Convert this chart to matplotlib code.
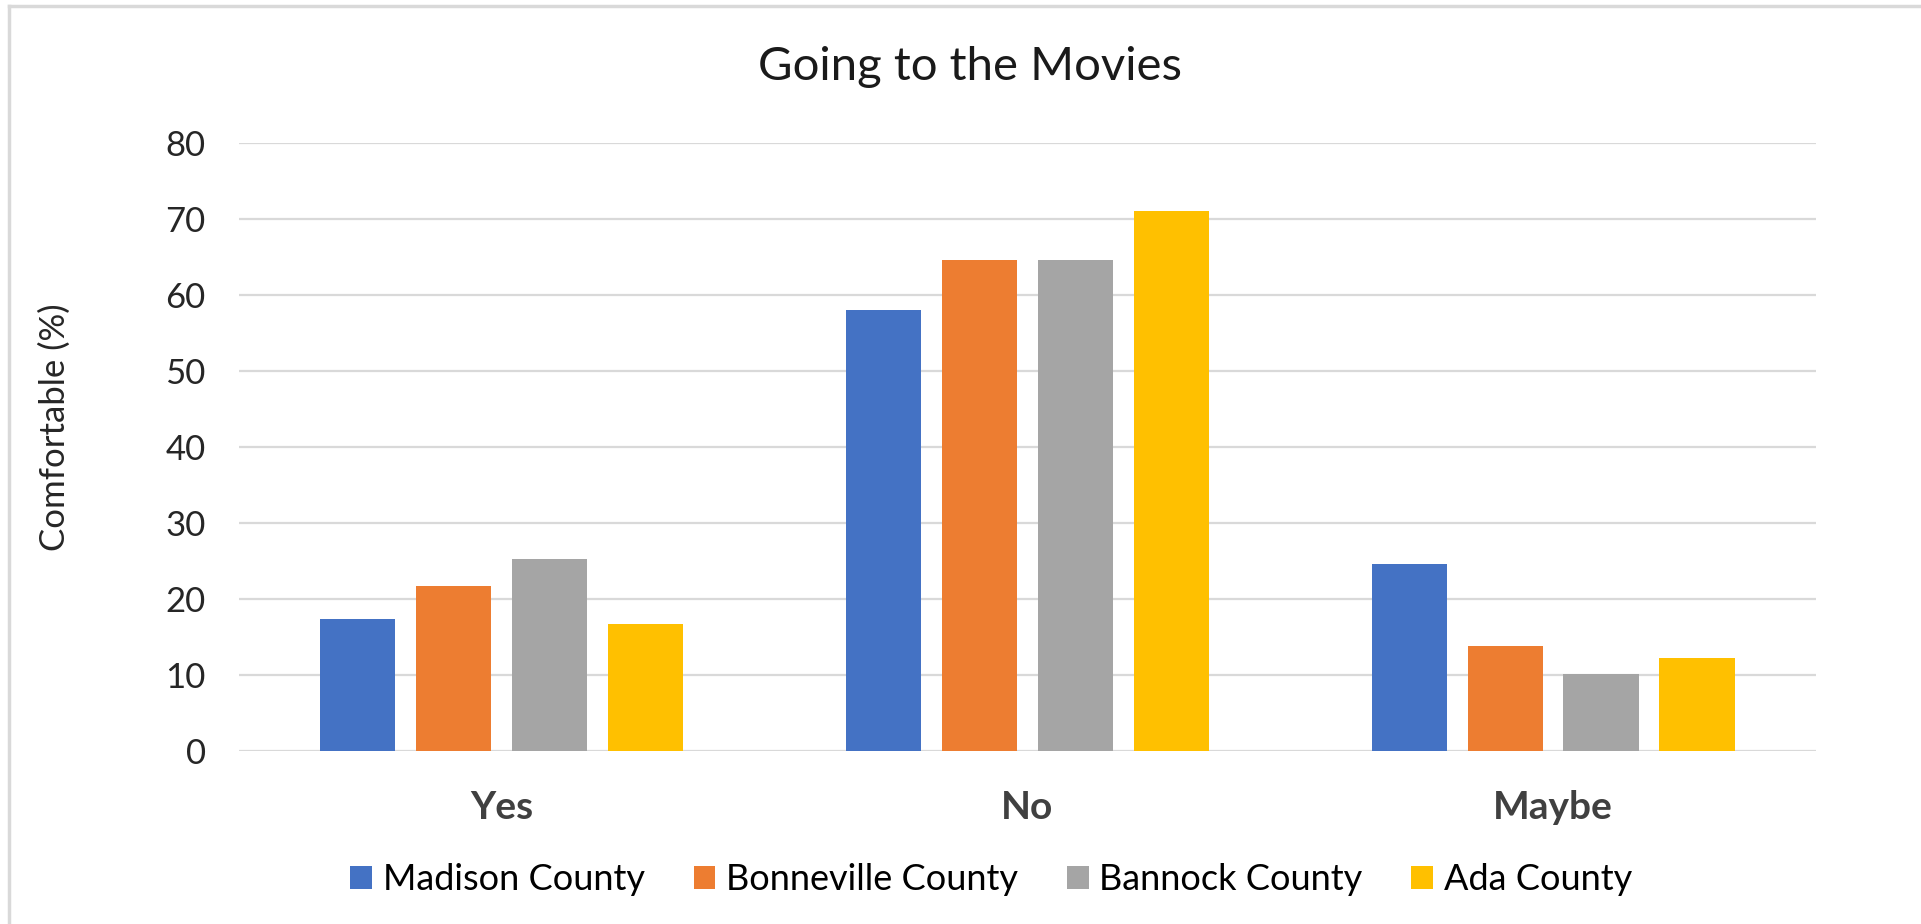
import matplotlib
matplotlib.use('Agg')
import matplotlib.pyplot as plt
from matplotlib.lines import Line2D
import numpy as np

categories = ['Yes', 'No', 'Maybe']
counties = ['Madison County', 'Bonneville County', 'Bannock County', 'Ada County']
madison = [17.4, 58.1, 24.6]
bonneville = [21.7, 64.6, 13.8]
bannock = [25.3, 64.6, 10.1]
ada = [16.7, 71.1, 12.3]
colors = ['#4472C4', '#ED7D31', '#A5A5A5', '#FFC000']

plt.rcParams['font.family'] = ['Lato', 'DejaVu Sans']

fig = plt.figure(figsize=(19.21, 9.24), dpi=100)
ax = fig.add_axes([0.1244, 0.1872, 0.8209, 0.6577])

x = np.arange(len(categories))
width = 0.143
step = 0.1825
for i, (vals, name) in enumerate(zip([madison, bonneville, bannock, ada], counties)):
    ax.bar(x + (i - 1.5) * step, vals, width, color=colors[i], label=name, zorder=3)

ax.set_xlim(-0.5, 2.5)
ax.set_ylim(0, 80)
ax.set_yticks(range(0, 81, 10))
ax.yaxis.grid(True, color='#D9D9D9', linewidth=1.6, zorder=0)
for s in ax.spines.values():
    s.set_visible(False)
ax.tick_params(axis='y', length=0, pad=24, labelsize=25, labelcolor='#262626')
ax.set_xticks(x)
ax.set_xticklabels(categories, fontsize=28, fontweight='bold', color='#404040')
ax.tick_params(axis='x', length=0, pad=28)

fig.text(0.505, 1 - 67 / 924, 'Going to the Movies', ha='center', va='center',
         fontsize=34, color='#1a1a1a')
fig.text(55 / 1921, 1 - 427 / 924, 'Comfortable (%)', rotation=90, ha='center',
         va='center', fontsize=25, color='#262626')

leg = fig.legend(loc='center', bbox_to_anchor=(0.516, 1 - 880 / 924), ncol=4,
                 frameon=False, fontsize=26, handlelength=0.6, handleheight=0.6,
                 handletextpad=0.3, columnspacing=1.35)

# light frame on the left and top edges of the chart area
fig.add_artist(Line2D([9 / 1921, 9 / 1921], [0, 1 - 6 / 924], color='#D9D9D9',
                      linewidth=2.5, transform=fig.transFigure))
fig.add_artist(Line2D([9 / 1921, 1], [1 - 6 / 924, 1 - 6 / 924], color='#D9D9D9',
                      linewidth=2.5, transform=fig.transFigure))

fig.savefig('out.png', dpi=100)
